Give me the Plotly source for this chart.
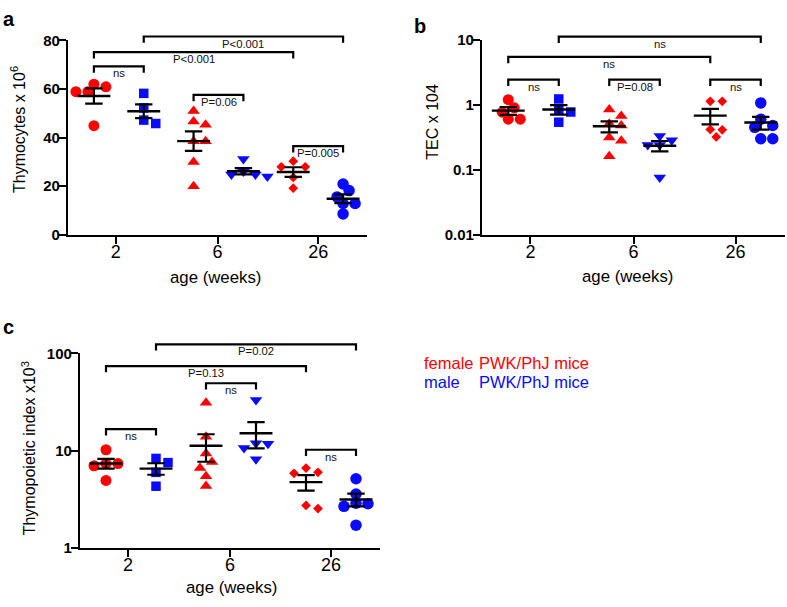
import numpy as np
import plotly.graph_objects as go

W, H = 787, 607

# ---------------- data ----------------
age_labels = ["2", "6", "26"]

# panel a: Thymocytes x 10^6  (female / male at 2, 6, 26 weeks)
thy_f2 = [62.0, 58.9, 58.9, 60.9, 44.9]
thy_m2 = [58.2, 52.2, 45.8, 47.2]
thy_f6 = [50.9, 46.6, 45.3, 38.5, 38.5, 30.0, 20.0]
thy_m6 = [31.2, 24.8, 24.0, 26.0, 24.8]
thy_f26 = [28.0, 28.0, 30.3, 23.6, 19.2]
thy_m26 = [20.9, 18.2, 15.6, 12.9, 12.9, 8.6]

# panel b: TEC x 10^4
tec_f2 = [0.77, 1.20, 0.90, 0.60, 0.60]
tec_m2 = [1.23, 0.85, 0.775, 0.54]
tec_f6 = [0.675, 0.85, 0.48, 0.51, 0.314, 0.279, 0.161]
tec_m6 = [0.24, 0.33, 0.24, 0.286, 0.076]
tec_f26 = [1.13, 1.13, 0.418, 0.413, 0.32]
tec_m26 = [1.07, 0.60, 0.48, 0.45, 0.30, 0.30]

# panel c: Thymopoietic index x 10^3
ti_f2 = [10.2, 7.35, 6.97, 7.35, 4.93]
ti_m2 = [7.52, 8.3, 5.97, 4.3]
ti_f6 = [31.1, 13.9, 9.33, 7.64, 6.6, 5.45, 4.33]
ti_m6 = [33.1, 11.9, 11.75, 10.6, 8.13]
ti_f26 = [5.97, 5.84, 6.6, 2.53, 2.73]
ti_m26 = [5.13, 3.57, 2.84, 2.67, 2.88, 1.71]

# significance brackets: (left group, right group, bracket height, label)
brackets_a = [(0, 1, 69.3, "ns"), (0, 4, 75.2, "P&lt;0.001"), (1, 5, 81.6, "P&lt;0.001"),
              (2, 3, 57.6, "P=0.06"), (4, 5, 36.5, "P=0.005")]
brackets_b = [(1, 5, 11.2, "ns"), (0, 4, 5.46, "ns"), (0, 1, 2.44, "ns"),
              (2, 3, 2.44, "P=0.08"), (4, 5, 2.44, "ns")]
brackets_c = [(1, 5, 124.0, "P=0.02"), (0, 4, 74.1, "P=0.13"), (2, 3, 49.3, "ns"),
              (0, 1, 16.6, "ns"), (4, 5, 10.2, "ns")]

# ---------------- style ----------------
RED, BLUE = "#ff0000", "#0a0aff"
group_colors = [RED, BLUE, RED, BLUE, RED, BLUE]
group_symbols = ["circle", "square", "triangle-up", "triangle-down", "diamond", "circle"]
group_sizes = [11, 9.5, 11, 11, 7.5, 11.5]
FONT = "Arial, Liberation Sans, sans-serif"
XR = [-0.52, 5.48]
XT = [0.44, 2.48, 4.5]

panels = [
    dict(ax="", ov="4", xdom=(68, 367), ydom=(32.3, 232.3), top=14, log=False, yr=(0, 80),
         yt=[0, 20, 40, 60, 80], ytt=["0", "20", "40", "60", "80"],
         groups=[thy_f2, thy_m2, thy_f6, thy_m6, thy_f26, thy_m26], br=brackets_a,
         ytitle="Thymocytes x 10<sup>6</sup>", ytpos=(17.5, 124), xtpos=(215, 276),
         label="a", lpos=(9, 10)),
    dict(ax="2", ov="5", xdom=(482, 785), ydom=(31.7, 232.3), top=14, log=True, yr=(-2, 1),
         yt=[0.01, 0.1, 1, 10], ytt=["0.01", "0.1", "1", "10"],
         groups=[tec_f2, tec_m2, tec_f6, tec_m6, tec_f26, tec_m26], br=brackets_b,
         ytitle="TEC x 104", ytpos=(433, 116), xtpos=(627.5, 275),
         label="b", lpos=(420, 17)),
    dict(ax="3", ov="6", xdom=(80, 380), ydom=(354.3, 554.3), top=332, log=True, yr=(0, 2),
         yt=[1, 10, 100], ytt=["1", "10", "100"],
         groups=[ti_f2, ti_m2, ti_f6, ti_m6, ti_f26, ti_m26], br=brackets_c,
         ytitle="Thymopoietic index x10<sup>3</sup>", ytpos=(29, 452), xtpos=(231, 595),
         label="c", lpos=(8, 327)),
]


def px2x(p):
    return p / W


def px2y(p):
    return 1 - p / H


def swarm(vals, to_px, xunit, d=9.0, step=6.0):
    vals = np.asarray(vals, float)
    order = np.argsort(-vals, kind="stable")
    placed = []
    offs = np.zeros(len(vals))
    cands = [0.0] + [s * m * step for m in range(1, 20) for s in (1, -1)]
    for i in order:
        y = to_px(vals[i])
        for c in cands:
            if all((c - px) ** 2 + (y - py) ** 2 >= d * d for px, py in placed):
                break
        placed.append((c, y))
        offs[i] = c / xunit
    return offs


fig = go.Figure()
layout = dict(width=W, height=H, margin=dict(l=0, r=0, t=0, b=0),
              paper_bgcolor="white", plot_bgcolor="rgba(0,0,0,0)",
              showlegend=False, font=dict(family=FONT, color="black"))
annotations = []

for P in panels:
    xa, ya = "x" + P["ax"], "y" + P["ax"]
    xo, yo = "x" + P["ov"], "y" + P["ov"]
    ytop, ybot = P["ydom"]
    hpx = ybot - ytop
    r0, r1 = P["yr"]
    tf = (lambda v: np.log10(v)) if P["log"] else (lambda v: v)
    to_px = lambda v, tf=tf, r0=r0, r1=r1, hpx=hpx: -(tf(v) - r0) / (r1 - r0) * hpx
    xunit = (P["xdom"][1] - P["xdom"][0]) / (XR[1] - XR[0])

    xdomain = [px2x(P["xdom"][0]), px2x(P["xdom"][1])]
    layout["xaxis" + P["ax"]] = dict(
        domain=xdomain, range=XR, anchor=ya, showgrid=False, zeroline=False,
        showline=True, linewidth=2.2, linecolor="black", ticks="outside", ticklen=7,
        tickwidth=2, tickcolor="black", tickvals=XT, ticktext=age_labels,
        ticklabelstandoff=-7,
        tickfont=dict(size=18, family=FONT, color="black"))
    layout["yaxis" + P["ax"]] = dict(
        domain=[px2y(ybot), px2y(ytop)], range=list(P["yr"]), anchor=xa,
        type="log" if P["log"] else "linear", showgrid=False, zeroline=False,
        showline=True, linewidth=2.2, linecolor="black", ticks="outside", ticklen=7,
        tickwidth=2, tickcolor="black", tickvals=P["yt"], ticktext=P["ytt"],
        ticklabelstandoff=-4,
        tickfont=dict(size=15, family=FONT, color="black", weight="bold"))
    # overlay axes (same scale, taller domain) for significance brackets
    ext = (ybot - P["top"]) / hpx * (r1 - r0)
    layout["xaxis" + P["ov"]] = dict(domain=xdomain, range=XR, anchor=yo, visible=False)
    layout["yaxis" + P["ov"]] = dict(domain=[px2y(ybot), px2y(P["top"])], range=[r0, r0 + ext],
                                     anchor=xo, visible=False,
                                     type="log" if P["log"] else "linear")

    # points and mean +/- SEM
    for g, vals in enumerate(P["groups"]):
        v = np.asarray(vals, float)
        offs = swarm(v, to_px, xunit)
        fig.add_trace(go.Scatter(
            x=g + offs, y=v, mode="markers", xaxis=xa, yaxis=ya, cliponaxis=False,
            marker=dict(symbol=group_symbols[g], size=group_sizes[g],
                        color=group_colors[g], line=dict(width=0))))
        m = v.mean()
        sem = v.std(ddof=1) / np.sqrt(len(v))
        fig.add_trace(go.Scatter(
            x=[g], y=[m], mode="markers", xaxis=xa, yaxis=ya, cliponaxis=False,
            marker=dict(symbol="line-ew", size=23.5, color="black",
                        line=dict(width=2.4, color="black")),
            error_y=dict(type="data", array=[sem], symmetric=True, width=8.7,
                         thickness=2.2, color="black")))

    # brackets
    leg_px = 6.5
    for (i, j, h, lab) in P["br"]:
        if P["log"]:
            hl = 10 ** (np.log10(h) - leg_px / hpx * (r1 - r0))
        else:
            hl = h - leg_px / hpx * (r1 - r0)
        fig.add_trace(go.Scatter(
            x=[i, i, j, j], y=[hl, h, h, hl], mode="lines", xaxis=xo, yaxis=yo,
            line=dict(color="black", width=2.2)))
        annotations.append(dict(
            x=(i + j) / 2, y=(np.log10(h) if P["log"] else h), xref=xo, yref=yo,
            text=lab, showarrow=False, xanchor="center", yanchor="top", yshift=1,
            font=dict(size=11.3, family=FONT, color="#111111")))

    # titles
    annotations.append(dict(
        x=px2x(P["ytpos"][0]), y=px2y(P["ytpos"][1]), xref="paper", yref="paper",
        text=P["ytitle"], textangle=-90, showarrow=False, xanchor="center",
        yanchor="middle", font=dict(size=16, family=FONT, color="black")))
    annotations.append(dict(
        x=px2x(P["xtpos"][0]), y=px2y(P["xtpos"][1]), xref="paper", yref="paper",
        text="age (weeks)", showarrow=False, xanchor="center", yanchor="middle",
        font=dict(size=16.8, family=FONT, color="black")))
    annotations.append(dict(
        x=px2x(P["lpos"][0]), y=px2y(P["lpos"][1]), xref="paper", yref="paper",
        text="<b>%s</b>" % P["label"], showarrow=False, xanchor="center",
        yanchor="middle", font=dict(size=20, family=FONT, color="black")))

# legend text
legend_rows = [("female", RED, 364.3), ("male", BLUE, 384.0)]
for word, col, ypx in legend_rows:
    annotations.append(dict(x=px2x(421.5), y=px2y(ypx), xref="paper", yref="paper",
                            text=word, showarrow=False, xanchor="left", yanchor="middle",
                            font=dict(size=16.5, family=FONT, color=col)))
    annotations.append(dict(x=px2x(476.5), y=px2y(ypx), xref="paper", yref="paper",
                            text="PWK/PhJ mice", showarrow=False, xanchor="left",
                            yanchor="middle", font=dict(size=16.5, family=FONT, color=col)))

layout["annotations"] = annotations
fig.update_layout(**layout)
fig.write_html("out.html", config={"displayModeBar": False},
               post_script="document.body.style.margin='0';"
                           "document.body.style.overflow='hidden';")
